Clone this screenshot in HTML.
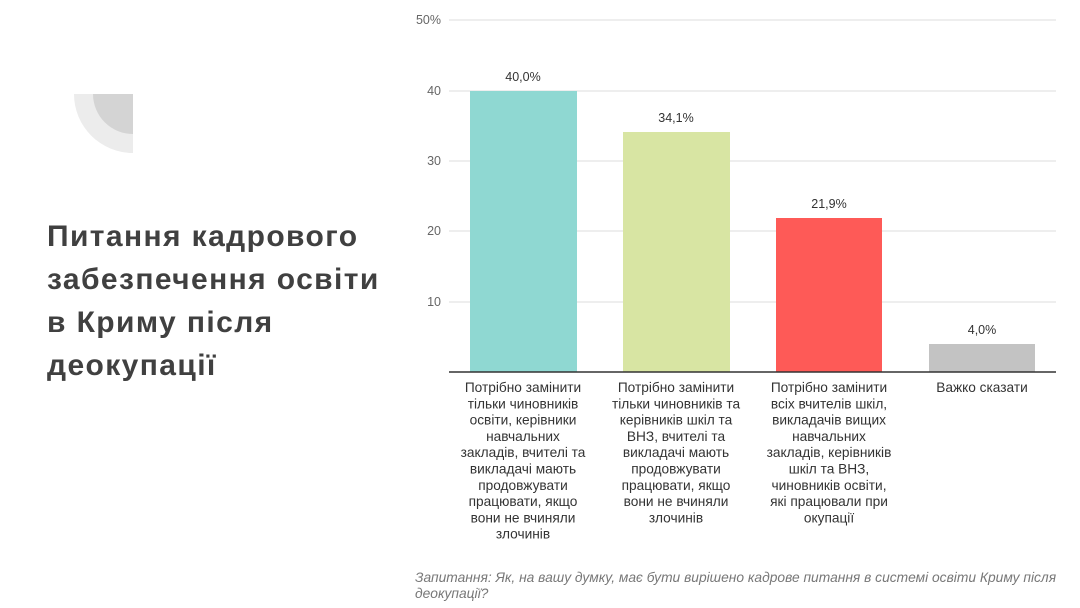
<!DOCTYPE html>
<html><head><meta charset="utf-8"><style>
body{margin:0;width:1080px;height:608px;background:#fff;overflow:hidden;position:relative;font-family:"Liberation Sans",sans-serif}
.t{position:absolute;left:47px;top:215px;font-size:30px;letter-spacing:1.4px;font-weight:bold;color:#404040;line-height:43px;white-space:nowrap}
svg{position:absolute;left:0;top:0}
</style></head><body>
<svg width="1080" height="608">
<path d="M133 94 L74 94 A59 59 0 0 0 133 153 Z" fill="#ececec"/>
<path d="M133 94 L93 94 A40 40 0 0 0 133 134 Z" fill="#d4d4d4"/>
<g stroke="#e3e3e3" stroke-width="1.2">
<line x1="449" x2="1056" y1="20" y2="20"/><line x1="449" x2="1056" y1="91" y2="91"/>
<line x1="449" x2="1056" y1="161" y2="161"/><line x1="449" x2="1056" y1="231" y2="231"/>
<line x1="449" x2="1056" y1="302" y2="302"/></g>
<g font-size="12.5" fill="#666" text-anchor="end">
<text x="441" y="24">50%</text><text x="441" y="95">40</text><text x="441" y="165">30</text><text x="441" y="235">20</text><text x="441" y="306">10</text></g>
<rect x="470" y="91" width="107" height="281" fill="#8fd8d2"/>
<rect x="623" y="132" width="107" height="240" fill="#d8e5a3"/>
<rect x="776" y="218" width="106" height="154" fill="#fe5a57"/>
<rect x="929" y="344" width="106" height="28" fill="#c3c3c3"/>
<line x1="449" x2="1056" y1="372" y2="372" stroke="#333" stroke-width="1.5"/>
<g font-size="12.5" fill="#333" text-anchor="middle">
<text x="523" y="81">40,0%</text><text x="676" y="122">34,1%</text><text x="829" y="208">21,9%</text><text x="982" y="334">4,0%</text></g>
<g font-size="13.7" fill="#333" text-anchor="middle">
<text x="523" y="392"><tspan x="523">Потрібно замінити</tspan><tspan x="523" dy="16.3">тільки чиновників</tspan><tspan x="523" dy="16.3">освіти, керівники</tspan><tspan x="523" dy="16.3">навчальних</tspan><tspan x="523" dy="16.3">закладів, вчителі та</tspan><tspan x="523" dy="16.3">викладачі мають</tspan><tspan x="523" dy="16.3">продовжувати</tspan><tspan x="523" dy="16.3">працювати, якщо</tspan><tspan x="523" dy="16.3">вони не вчиняли</tspan><tspan x="523" dy="16.3">злочинів</tspan></text>
<text x="676" y="392"><tspan x="676">Потрібно замінити</tspan><tspan x="676" dy="16.3">тільки чиновників та</tspan><tspan x="676" dy="16.3">керівників шкіл та</tspan><tspan x="676" dy="16.3">ВНЗ, вчителі та</tspan><tspan x="676" dy="16.3">викладачі мають</tspan><tspan x="676" dy="16.3">продовжувати</tspan><tspan x="676" dy="16.3">працювати, якщо</tspan><tspan x="676" dy="16.3">вони не вчиняли</tspan><tspan x="676" dy="16.3">злочинів</tspan></text>
<text x="829" y="392"><tspan x="829">Потрібно замінити</tspan><tspan x="829" dy="16.3">всіх вчителів шкіл,</tspan><tspan x="829" dy="16.3">викладачів вищих</tspan><tspan x="829" dy="16.3">навчальних</tspan><tspan x="829" dy="16.3">закладів, керівників</tspan><tspan x="829" dy="16.3">шкіл та ВНЗ,</tspan><tspan x="829" dy="16.3">чиновників освіти,</tspan><tspan x="829" dy="16.3">які працювали при</tspan><tspan x="829" dy="16.3">окупації</tspan></text>
<text x="982" y="392">Важко сказати</text></g>
<g font-size="13.8" fill="#777" font-style="italic">
<text x="415" y="582">Запитання: Як, на вашу думку, має бути вирішено кадрове питання в системі освіти Криму після</text>
<text x="415" y="598">деокупації?</text></g>
</svg>
<div class="t">Питання кадрового<br>забезпечення освіти<br>в Криму після<br>деокупації</div>
</body></html>
